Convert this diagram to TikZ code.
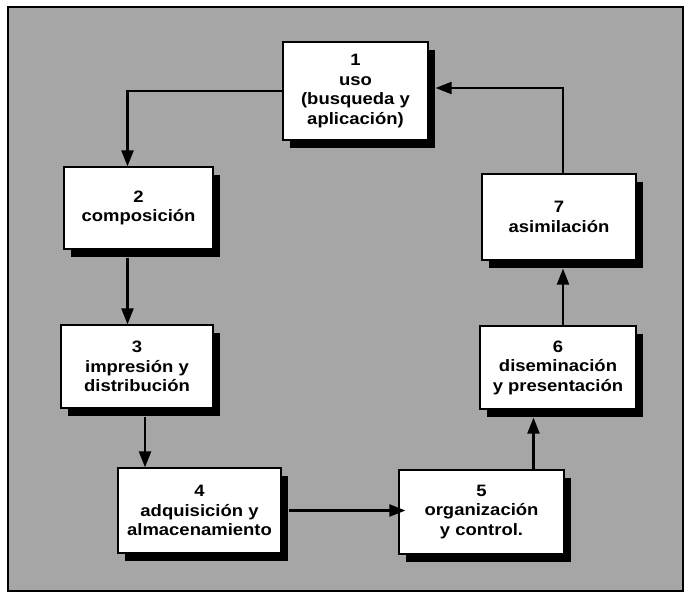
\documentclass[tikz,border=0pt]{standalone}
\usepackage{fontspec}
\setmainfont{Liberation Sans}[FakeStretch=1.12]
\usepackage{tikz}
\usetikzlibrary{arrows.meta,shadows,positioning}

\begin{document}
\begin{tikzpicture}[x=1pt,y=-1pt]
			\tikzstyle{Stage}	= [draw, fill=white, line width=1.2pt, align=center, inner sep=2pt,
						   font=\bfseries\fontsize{16.5}{19.5}\selectfont,
						   drop shadow={shadow xshift=7pt, shadow yshift=-8pt, fill=black, opacity=1}]
			\tikzstyle{Flow}	= [line width=2.2pt, -{Triangle[length=16pt,width=12pt]}]
			\tikzstyle{Frame}	= [line width=2.5pt, fill=black!35]

			\useasboundingbox (0,0) rectangle (687,600);
			\draw [Frame] (8,7) rectangle (683,591);

			\node (uso) at (355.5,91) [Stage, minimum width=145pt, minimum height=98pt] {1\\uso\\(busqueda y\\aplicación)};
			\node (comp) at (138.5,208) [Stage, minimum width=149pt, minimum height=82pt] {2\\composición};
			\node (impr) at (137,366.5) [Stage, minimum width=152pt, minimum height=83pt] {3\\impresión y\\distribución};
			\node (adq) at (199.5,510.5) [Stage, minimum width=163pt, minimum height=85pt] {4\\adquisición y\\almacenamiento};
			\node (org) at (481.5,512) [Stage, minimum width=165pt, minimum height=84pt] {5\\organización\\y control.};
			\node (dis) at (558,367.5) [Stage, minimum width=156pt, minimum height=83pt] {6\\diseminación\\y presentación};
			\node (asim) at (559,217) [Stage, minimum width=154pt, minimum height=86pt] {7\\asimilación};

			% shadow edges where the arrows stop
			\coordinate (disS) at ([yshift=-8pt]dis.south);
			\coordinate (asimS) at ([yshift=-8pt]asim.south);

			\draw [Flow] (uso.west) -| ([xshift=-11pt]comp.north);
			\draw [Flow] ([xshift=-11pt,yshift=-8pt]comp.south) -- ([xshift=-11pt]comp.south |- impr.north);
			\draw [Flow] ([xshift=8pt,yshift=-8pt]impr.south) -- ([xshift=8pt]impr.south |- adq.north);
			\draw [Flow] ([xshift=7pt]adq.east) -- ([xshift=7pt]adq.east -| org.west);
			\draw [Flow] ([xshift=52pt]org.north) -- ([xshift=52pt]org.north |- disS);
			\draw [Flow] ([xshift=5pt]dis.north) -- ([xshift=5pt]dis.north |- asimS);
			\draw [Flow] ([xshift=4pt]asim.north) |- ([xshift=7pt,yshift=3pt]uso.east);
		\end{tikzpicture}
\end{document}
